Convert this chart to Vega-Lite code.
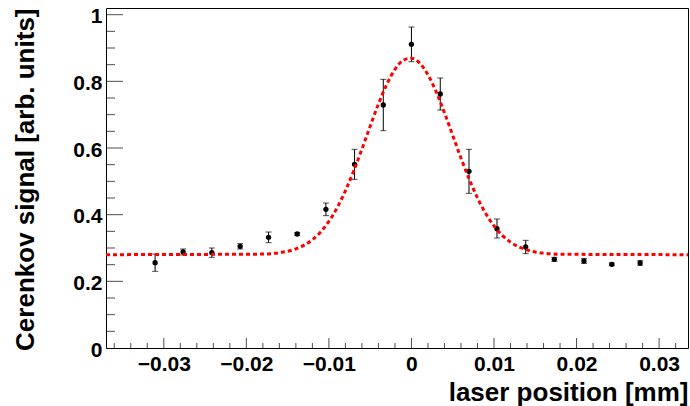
{
  "$schema": "https://vega.github.io/schema/vega-lite/v6.json",
  "width": 582,
  "height": 340,
  "autosize": {"type": "none"},
  "padding": {"left": 106, "top": 8, "right": 2, "bottom": 58},
  "background": "white",
  "config": {
    "view": {"stroke": "#000000", "strokeWidth": 1},
    "font": "Liberation Sans",
    "axis": {
      "labelFont": "Liberation Sans",
      "labelFontWeight": "bold",
      "labelFontSize": 21,
      "labelColor": "#000000",
      "titleFont": "Liberation Sans",
      "titleFontWeight": "bold",
      "titleFontSize": 26,
      "titleColor": "#000000",
      "grid": false,
      "domain": false
    }
  },
  "datasets": {
    "points": [
      {"pos": -0.03105, "signal": 0.256, "lo": 0.230, "hi": 0.282},
      {"pos": -0.02766, "signal": 0.288, "lo": 0.279, "hi": 0.297},
      {"pos": -0.02418, "signal": 0.286, "lo": 0.272, "hi": 0.300},
      {"pos": -0.02075, "signal": 0.305, "lo": 0.297, "hi": 0.313},
      {"pos": -0.01731, "signal": 0.332, "lo": 0.316, "hi": 0.348},
      {"pos": -0.01384, "signal": 0.342, "lo": 0.338, "hi": 0.346},
      {"pos": -0.01036, "signal": 0.416, "lo": 0.397, "hi": 0.435},
      {"pos": -0.00689, "signal": 0.551, "lo": 0.506, "hi": 0.596},
      {"pos": -0.00341, "signal": 0.729, "lo": 0.652, "hi": 0.806},
      {"pos": 0.0, "signal": 0.911, "lo": 0.859, "hi": 0.963},
      {"pos": 0.00349, "signal": 0.762, "lo": 0.714, "hi": 0.810},
      {"pos": 0.00697, "signal": 0.530, "lo": 0.464, "hi": 0.596},
      {"pos": 0.01036, "signal": 0.358, "lo": 0.330, "hi": 0.387},
      {"pos": 0.01384, "signal": 0.303, "lo": 0.283, "hi": 0.323},
      {"pos": 0.01731, "signal": 0.266, "lo": 0.260, "hi": 0.272},
      {"pos": 0.0209, "signal": 0.261, "lo": 0.254, "hi": 0.268},
      {"pos": 0.02427, "signal": 0.251, "lo": 0.247, "hi": 0.255},
      {"pos": 0.0277, "signal": 0.255, "lo": 0.248, "hi": 0.262}
    ],
    "fit": [
      {"pos": -0.037, "signal": 0.2800},
      {"pos": -0.018, "signal": 0.2817},
      {"pos": -0.017, "signal": 0.2832},
      {"pos": -0.016, "signal": 0.2858},
      {"pos": -0.015, "signal": 0.2903},
      {"pos": -0.014, "signal": 0.2974},
      {"pos": -0.013, "signal": 0.3085},
      {"pos": -0.012, "signal": 0.3249},
      {"pos": -0.011, "signal": 0.3483},
      {"pos": -0.010, "signal": 0.3799},
      {"pos": -0.009, "signal": 0.4210},
      {"pos": -0.008, "signal": 0.4716},
      {"pos": -0.007, "signal": 0.5309},
      {"pos": -0.006, "signal": 0.5968},
      {"pos": -0.005, "signal": 0.6653},
      {"pos": -0.004, "signal": 0.7318},
      {"pos": -0.003, "signal": 0.7904},
      {"pos": -0.002, "signal": 0.8357},
      {"pos": -0.001, "signal": 0.8630},
      {"pos": 0.000, "signal": 0.8696},
      {"pos": 0.001, "signal": 0.8545},
      {"pos": 0.002, "signal": 0.8195},
      {"pos": 0.003, "signal": 0.7682},
      {"pos": 0.004, "signal": 0.7058},
      {"pos": 0.005, "signal": 0.6378},
      {"pos": 0.006, "signal": 0.5699},
      {"pos": 0.007, "signal": 0.5062},
      {"pos": 0.008, "signal": 0.4502},
      {"pos": 0.009, "signal": 0.4034},
      {"pos": 0.010, "signal": 0.3662},
      {"pos": 0.011, "signal": 0.3380},
      {"pos": 0.012, "signal": 0.3176},
      {"pos": 0.013, "signal": 0.3035},
      {"pos": 0.014, "signal": 0.2942},
      {"pos": 0.015, "signal": 0.2882},
      {"pos": 0.016, "signal": 0.2846},
      {"pos": 0.017, "signal": 0.2825},
      {"pos": 0.018, "signal": 0.2813},
      {"pos": 0.0335, "signal": 0.2800}
    ],
    "xmajor": [{"v": -0.03}, {"v": -0.02}, {"v": -0.01}, {"v": 0}, {"v": 0.01}, {"v": 0.02}, {"v": 0.03}],
    "xminor": [{"v": -0.036}, {"v": -0.034}, {"v": -0.032}, {"v": -0.028}, {"v": -0.026}, {"v": -0.024}, {"v": -0.022}, {"v": -0.018}, {"v": -0.016}, {"v": -0.014}, {"v": -0.012}, {"v": -0.008}, {"v": -0.006}, {"v": -0.004}, {"v": -0.002}, {"v": 0.002}, {"v": 0.004}, {"v": 0.006}, {"v": 0.008}, {"v": 0.012}, {"v": 0.014}, {"v": 0.016}, {"v": 0.018}, {"v": 0.022}, {"v": 0.024}, {"v": 0.026}, {"v": 0.028}, {"v": 0.032}],
    "ymajor": [{"v": 0.2}, {"v": 0.4}, {"v": 0.6}, {"v": 0.8}, {"v": 1}],
    "yminor": [{"v": 0.05}, {"v": 0.1}, {"v": 0.15}, {"v": 0.25}, {"v": 0.3}, {"v": 0.35}, {"v": 0.45}, {"v": 0.5}, {"v": 0.55}, {"v": 0.65}, {"v": 0.7}, {"v": 0.75}, {"v": 0.85}, {"v": 0.9}, {"v": 0.95}]
  },
  "layer": [
    {
      "data": {"name": "points"},
      "mark": {"type": "rule", "color": "#000000", "strokeWidth": 1},
      "encoding": {
        "x": {
          "field": "pos", "type": "quantitative",
          "scale": {"domain": [-0.037, 0.0335], "nice": false, "zero": false},
          "axis": {
            "orient": "bottom",
            "values": [-0.03, -0.02, -0.01, 0, 0.01, 0.02, 0.03],
            "format": "~g",
            "ticks": false,
            "tickSize": 0,
            "labelPadding": 5,
            "title": "laser position [mm]",
            "titleAnchor": "end",
            "titlePadding": 5
          }
        },
        "y": {
          "field": "lo", "type": "quantitative",
          "scale": {"domain": [0, 1.02], "nice": false, "zero": false},
          "axis": {
            "orient": "left",
            "values": [0, 0.2, 0.4, 0.6, 0.8, 1],
            "format": "~g",
            "ticks": false,
            "tickSize": 0,
            "labelPadding": 4,
            "labelOffset": 2,
            "title": "Cerenkov signal [arb. units]",
            "titleAnchor": "end",
            "titlePadding": 34
          }
        },
        "y2": {"field": "hi"}
      }
    },
    {
      "data": {"name": "points"},
      "mark": {"type": "tick", "orient": "horizontal", "color": "#000000", "size": 6, "thickness": 1},
      "encoding": {
        "x": {"field": "pos", "type": "quantitative"},
        "y": {"field": "lo", "type": "quantitative"}
      }
    },
    {
      "data": {"name": "points"},
      "mark": {"type": "tick", "orient": "horizontal", "color": "#000000", "size": 6, "thickness": 1},
      "encoding": {
        "x": {"field": "pos", "type": "quantitative"},
        "y": {"field": "hi", "type": "quantitative"}
      }
    },
    {
      "data": {"name": "xmajor"},
      "mark": {"type": "tick", "orient": "vertical", "color": "#000000", "size": 10, "thickness": 1, "yOffset": -5},
      "encoding": {
        "x": {"field": "v", "type": "quantitative"},
        "y": {"datum": 0, "type": "quantitative"}
      }
    },
    {
      "data": {"name": "xminor"},
      "mark": {"type": "tick", "orient": "vertical", "color": "#000000", "size": 5, "thickness": 1, "yOffset": -2.5},
      "encoding": {
        "x": {"field": "v", "type": "quantitative"},
        "y": {"datum": 0, "type": "quantitative"}
      }
    },
    {
      "data": {"name": "ymajor"},
      "mark": {"type": "tick", "orient": "horizontal", "color": "#000000", "size": 17, "thickness": 1, "xOffset": 8.5},
      "encoding": {
        "x": {"datum": -0.037, "type": "quantitative"},
        "y": {"field": "v", "type": "quantitative"}
      }
    },
    {
      "data": {"name": "yminor"},
      "mark": {"type": "tick", "orient": "horizontal", "color": "#000000", "size": 9, "thickness": 1, "xOffset": 4.5},
      "encoding": {
        "x": {"datum": -0.037, "type": "quantitative"},
        "y": {"field": "v", "type": "quantitative"}
      }
    },
    {
      "data": {"name": "points"},
      "mark": {"type": "point", "shape": "circle", "filled": true, "color": "#000000", "size": 28, "opacity": 1},
      "encoding": {
        "x": {"field": "pos", "type": "quantitative"},
        "y": {"field": "signal", "type": "quantitative"}
      }
    },
    {
      "data": {"name": "fit"},
      "mark": {"type": "line", "color": "#ff0000", "strokeWidth": 3, "strokeDash": [4, 3], "interpolate": "monotone"},
      "encoding": {
        "x": {"field": "pos", "type": "quantitative"},
        "y": {"field": "signal", "type": "quantitative"}
      }
    }
  ]
}
